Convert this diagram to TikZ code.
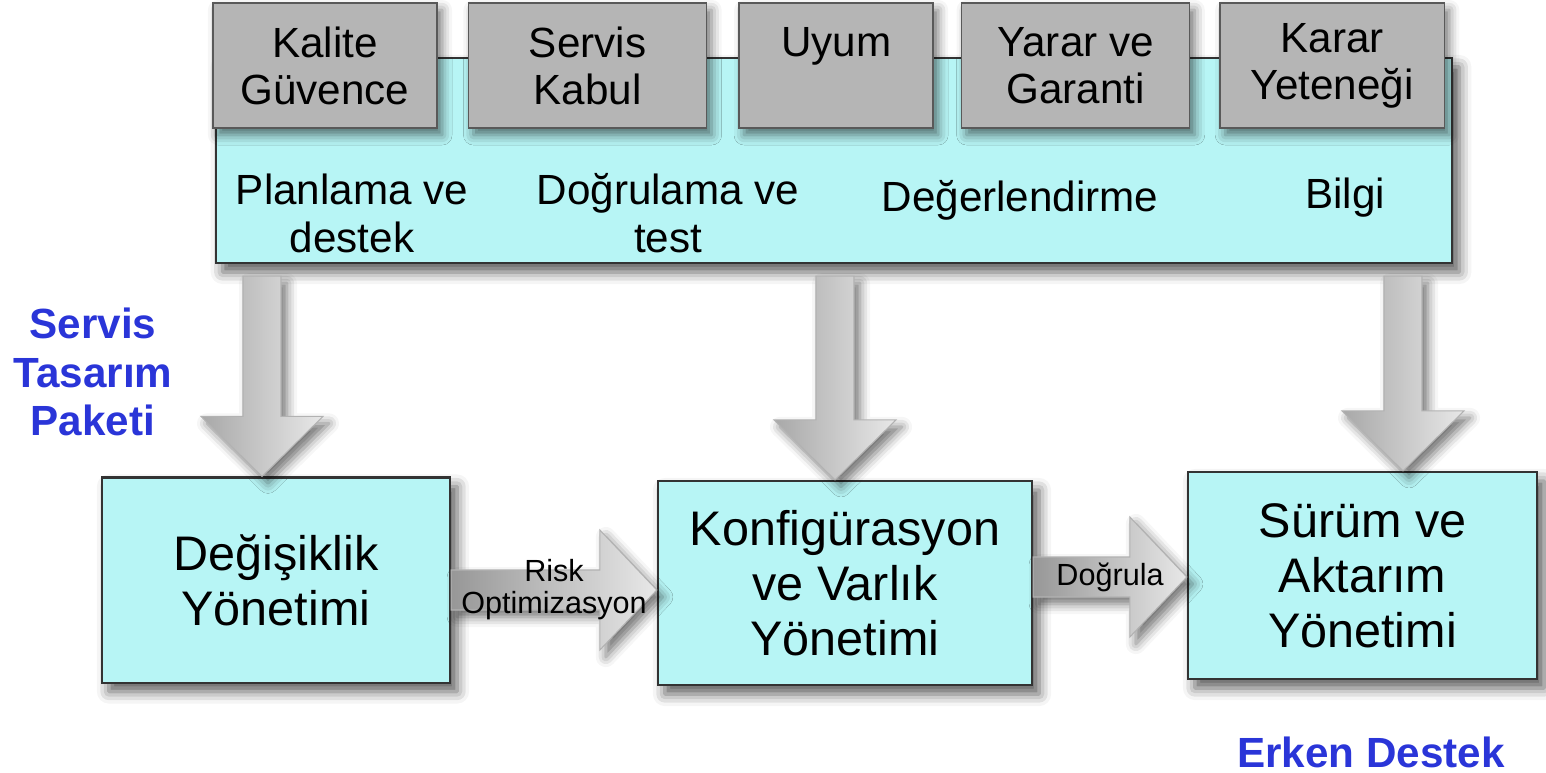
\documentclass[tikz,border=0pt]{standalone}
\usepackage[dvipsnames]{xcolor}
\usepackage{fontspec}
\setmainfont{Liberation Sans}
\usetikzlibrary{calc,positioning,shadows.blur}

\definecolor{boxcyan}{RGB}{183,245,245}
\definecolor{boxgray}{RGB}{181,181,181}
\definecolor{labelblue}{RGB}{42,53,216}
\definecolor{arrowdark}{RGB}{168,168,168}
\definecolor{arrowlight}{RGB}{232,232,232}

\newcommand{\blockdown}[3]{%
  \path[block arrow, left color=arrowdark, right color=arrowlight]
    ($(#1|-#2.south)+(-19,12)$) -- ($(#1|-#2.south)+(19,12)$)
    -- ($(#1|-#3.north)+(19,-60)$) -- ($(#1|-#3.north)+(61,-60)$)
    -- (#1|-#3.north) -- ($(#1|-#3.north)+(-61,-60)$)
    -- ($(#1|-#3.north)+(-19,-60)$) -- cycle;}
\newcommand{\blockright}[3]{%
  \path[block arrow, left color=arrowdark!90!black, right color=arrowlight]
    ($(#1.east|-#3)+(0,-20)$) -- ($(#2.west|-#3)+(-57,-20)$)
    -- ($(#2.west|-#3)+(-57,-60)$) -- (#2.west|-#3)
    -- ($(#2.west|-#3)+(-57,60)$) -- ($(#2.west|-#3)+(-57,20)$)
    -- ($(#1.east|-#3)+(0,20)$) -- cycle;}

\begin{document}
\begin{tikzpicture}[x=0.01cm,y=-0.01cm,
    top box/.style={draw=gray!70!black, fill=boxgray, minimum width=#1, minimum height=1.25cm, inner sep=0pt, align=center, font=\fontsize{12}{13.4}\selectfont, blur shadow={shadow xshift=0.05cm, shadow yshift=-0.07cm, shadow blur radius=0.1cm, shadow opacity=55}},
    main box/.style={draw=black!80, line width=0.6pt, fill=boxcyan, minimum width=#1, minimum height=2.05cm, inner sep=0pt, align=center, font=\fontsize{13.8}{15.6}\selectfont, blur shadow={shadow xshift=0.07cm, shadow yshift=-0.09cm, shadow blur radius=0.12cm, shadow opacity=65}},
    band text/.style={align=center, font=\fontsize{12}{13.6}\selectfont},
    blue text/.style={align=center, text=labelblue, font=\bfseries\fontsize{12}{13.7}\selectfont},
    arrow text/.style={align=center, inner sep=0pt, font=\fontsize{8.7}{9.1}\selectfont},
    block arrow/.style={draw=gray!60, line width=0.3pt, blur shadow={shadow xshift=0.06cm, shadow yshift=-0.07cm, shadow blur radius=0.1cm, shadow opacity=55}}]

            \useasboundingbox (0,0) rectangle (1546,772);

            \node[main box=12.36cm] (6) at (834,160.5) {};
            \node[top box=2.24cm] (1) at (325,65.5) {Kalite\\Güvence};
            \node[top box=2.38cm] (2) [right=0.3cm of 1] {Servis\\Kabul};
            \node[top box=1.94cm] (3) [right=0.31cm of 2] {Uyum\\\mbox{}};
            \node[top box=2.28cm] (4) [right=0.27cm of 3] {Yarar ve\\Garanti};
            \node[top box=2.24cm] (5) [right=0.29cm of 4] {Karar\\Yeteneği};

            \node[band text] (11) at (352,213) {Planlama ve\\destek};
            \node[band text] (12) at (668,213) {Doğrulama ve\\test};
            \node[band text] (13) at (1020,200) {Değerlendirme};
            \node[band text] (14) at (1345,198) {Bilgi};

            \node[main box=3.48cm] (7) at (276,580) {Değişiklik\\Yönetimi};
            \node[main box=3.74cm, minimum height=2.04cm] (8) at (845,583) {Konfigürasyon\\ve Varlık\\Yönetimi};
            \node[main box=3.49cm, minimum height=2.07cm] (9) at (1362.5,575.5) {Sürüm ve\\Aktarım\\Yönetimi};

            \node[blue text] (15) at (93,372) {Servis\\Tasarım\\Paketi};
            \node[blue text] (16) at (1371,752) {Erken Destek};

            \coordinate (a1) at (262,0);
            \coordinate (a2) at (835,0);
            \coordinate (a3) at (1403,0);
            \coordinate (r1) at (0,590);
            \coordinate (r2) at (0,577);

            \blockdown{a1}{6}{7}
            \blockdown{a2}{6}{8}
            \blockdown{a3}{6}{9}
            \blockright{7}{8}{r1}
            \blockright{8}{9}{r2}

            \node[arrow text] (17) at ($(7.east|-r1)!0.5!(8.west|-r1)$) {Risk\\Optimizasyon};
            \node[arrow text] (18) at ($(8.east|-r2)!0.5!(9.west|-r2)$) {Doğrula};

        \end{tikzpicture}
\end{document}
